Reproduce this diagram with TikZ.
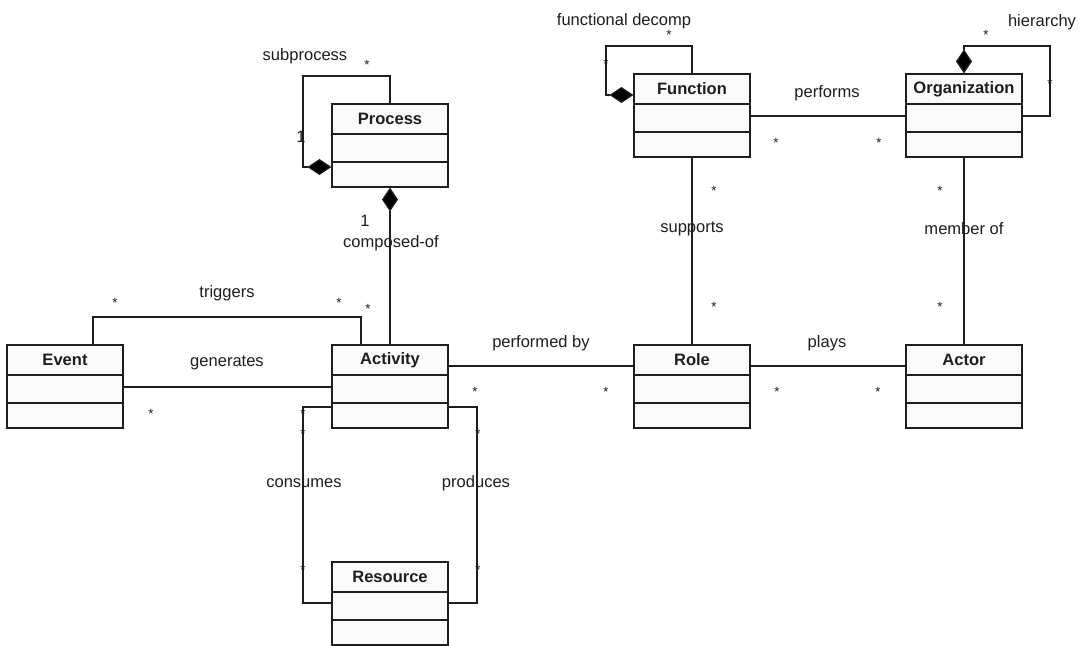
\documentclass[tikz,border=0pt]{standalone}
\usepackage{fontspec}
\setmainfont{Liberation Sans}
\usetikzlibrary{arrows.meta}
\definecolor{boxfill}{RGB}{251,251,251}
\definecolor{ink}{RGB}{30,30,30}
\tikzset{
  clsbox/.style={draw=ink, fill=boxfill, minimum width=87pt, minimum height=62.25pt, inner sep=0pt, line width=0.9pt},
  clsname/.style={font=\bfseries\fontsize{12.4}{14}\selectfont, text=ink, inner sep=0pt},
  lbl/.style={font=\fontsize{12.4}{14}\selectfont, text=ink, inner sep=0pt},
  mult/.style={font=\fontsize{10}{11}\selectfont, text=ink, inner sep=0pt},
  assoc/.style={draw=ink, line width=0.9pt},
  comp/.style={draw=ink, line width=0.9pt, -{Diamond[length=18pt,width=12pt,fill=black]}},
}
% #1 name, #2 left x, #3 top y, #4 label
\newcommand{\umlclass}[4]{%
  \node[clsbox] (#1) at (#2+58,#3+41.5) {};
  \node[clsname] (#1-name) at (#2+58,#3+15) {#4};
  \draw[assoc] (#2,#3+30) -- (#2+116,#3+30);
  \draw[assoc] (#2,#3+58) -- (#2+116,#3+58);
}
\begin{document}
\begin{tikzpicture}[x=0.75pt,y=-0.75pt]
\useasboundingbox (0,0) rectangle (1079,646);
\fill[white] (0,0) rectangle (1079,646);

% classes
\umlclass{process}{332}{104}{Process}
\umlclass{function}{634}{74}{Function}
\umlclass{organization}{906}{74}{Organization}
\umlclass{event}{7}{345}{Event}
\umlclass{activity}{332}{345}{Activity}
\umlclass{role}{634}{345}{Role}
\umlclass{actor}{906}{345}{Actor}
\umlclass{resource}{332}{562}{Resource}

% corner coordinates
\coordinate (spTop) at (303,76);
\coordinate (fdTop) at (606,46);
\coordinate (hTop) at (1050,46);
\coordinate (trig) at (361,317);
\coordinate (trigL) at (93,317);
\coordinate (consB) at (303,603);
\coordinate (prodB) at (477,603);

% compositions
\draw[comp] (process.north) |- (spTop) |- (process.west |- 0,167);
\draw[comp] (function.north) |- (fdTop) |- (function.west |- 0,95);
\draw[comp] (organization.east |- 0,116) -| (hTop) -| (organization.north);
\draw[comp] (activity.north) -- (process.south);

% associations
\draw[assoc] (event.north -| trigL) |- (trig) -- (activity.north -| trig);
\draw[assoc] (event.east |- 0,387) -- (activity.west |- 0,387);
\draw[assoc] (activity.east |- 0,366) -- (role.west |- 0,366);
\draw[assoc] (role.east |- 0,366) -- (actor.west |- 0,366);
\draw[assoc] (function.east |- 0,116) -- (organization.west |- 0,116);
\draw[assoc] (function.south) -- (role.north);
\draw[assoc] (organization.south) -- (actor.north);
\draw[assoc] (activity.west |- 0,407) -| (consB) -- (resource.west |- consB);
\draw[assoc] (activity.east |- 0,407) -| (prodB) -- (resource.east |- prodB);

% labels
\node[lbl] (l-sub) at (305,56) {subprocess};
\node[lbl] (l-fd) at (624,21) {functional decomp};
\node[lbl] (l-hier) at (1042,22) {hierarchy};
\node[lbl] (l-perf) at (827,93) {performs};
\node[lbl] (l-sup) at (692,229) {supports};
\node[lbl] (l-mem) at (964,229) {member of};
\node[lbl] (l-comp) at (391,243) {composed-of};
\node[lbl] (l-trig) at (227,293) {triggers};
\node[lbl] (l-gen) at (227,363) {generates};
\node[lbl] (l-pby) at (541,343) {performed by};
\node[lbl] (l-plays) at (827,343) {plays};
\node[lbl] (l-cons) at (304,483) {consumes};
\node[lbl] (l-prod) at (476,483) {produces};
\node[lbl] (one1) at (301,137) {1};
\node[lbl] (one2) at (365,221) {1};

% multiplicities
\node[mult] (s1) at (367,65) {*};
\node[mult] (s2) at (669,35) {*};
\node[mult] (s3) at (606,64) {*};
\node[mult] (s4) at (986,35) {*};
\node[mult] (s5) at (1050,84) {*};
\node[mult] (s6) at (776,143) {*};
\node[mult] (s7) at (879,143) {*};
\node[mult] (s8) at (714,191) {*};
\node[mult] (s9) at (714,307) {*};
\node[mult] (s10) at (940,191) {*};
\node[mult] (s11) at (940,307) {*};
\node[mult] (s12) at (368,309) {*};
\node[mult] (s13) at (115,303) {*};
\node[mult] (s14) at (339,303) {*};
\node[mult] (s15) at (151,414) {*};
\node[mult] (s16) at (303,414) {*};
\node[mult] (s17) at (303,434) {*};
\node[mult] (s18) at (303,570) {*};
\node[mult] (s19) at (478,434) {*};
\node[mult] (s20) at (478,570) {*};
\node[mult] (s21) at (475,392) {*};
\node[mult] (s22) at (606,392) {*};
\node[mult] (s23) at (777,392) {*};
\node[mult] (s24) at (878,392) {*};
\end{tikzpicture}
\end{document}
